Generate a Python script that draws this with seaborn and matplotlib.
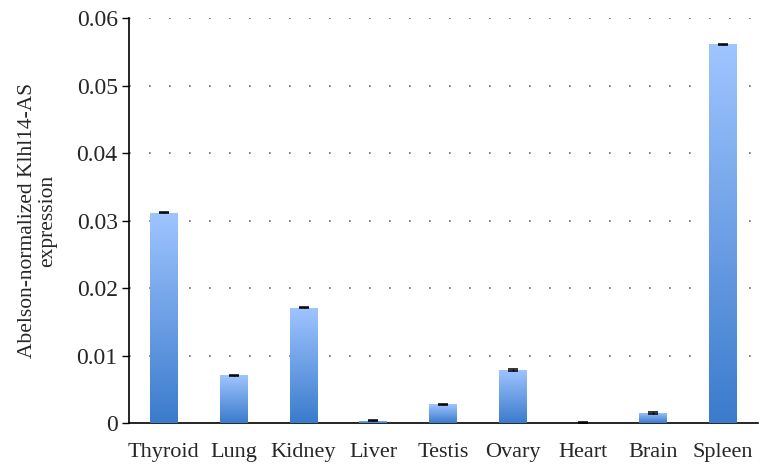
import numpy as np
import matplotlib
matplotlib.use("Agg")
import matplotlib.pyplot as plt
import seaborn as sns
from matplotlib.colors import LinearSegmentedColormap

tissues = ["Thyroid", "Lung", "Kidney", "Liver", "Testis", "Ovary", "Heart", "Brain", "Spleen"]
expression = [0.0312, 0.0071, 0.0171, 0.0004, 0.0028, 0.0079, 0.0001, 0.0015, 0.0561]
errors = [0.0001, 0.0001, 0.0001, 0.0001, 0.0001, 0.0001, 0.0001, 0.0001, 0.0001]

sns.set_style("white")
plt.rcParams["font.family"] = ["Liberation Serif", "DejaVu Serif"]

fig = plt.figure(figsize=(7.67, 4.75), dpi=100)
ax = fig.add_axes([0.168, 0.109, 0.820, 0.853])

sns.barplot(x=tissues, y=expression, color="#6fa0e6", width=0.4, ax=ax, zorder=2)
ax.errorbar(np.arange(len(tissues)), expression, yerr=errors, fmt="none",
            ecolor="black", elinewidth=1, capsize=3.5, capthick=1.1, zorder=4)

# vertical gradient inside each bar
cmap = LinearSegmentedColormap.from_list("bar", ["#3b7bcc", "#9fc5ff"])
grad = np.linspace(0, 1, 256).reshape(-1, 1)
for p in ax.patches:
    x0, y0 = p.get_x(), p.get_y()
    w, h = p.get_width(), p.get_height()
    if h <= 0:
        continue
    im = ax.imshow(grad, cmap=cmap, aspect="auto", origin="lower",
                   extent=[x0, x0 + w, y0, y0 + h], zorder=3)
    im.set_clip_path(p)

ax.set_xlim(-0.5, len(tissues) - 0.5)
ax.set_ylim(0, 0.06)
ax.set_yticks(np.arange(0, 0.061, 0.01))
ax.set_yticklabels(["0", "0.01", "0.02", "0.03", "0.04", "0.05", "0.06"])

for yv in np.arange(0.01, 0.061, 0.01):
    ax.axhline(yv, color="#666666", linestyle=(0, (1, 11)), linewidth=1.2, zorder=1)

ax.set_xticks(np.arange(len(tissues)))
ax.set_xticklabels(tissues)
ax.set_xticks(np.arange(-0.5, len(tissues)), minor=True)
ax.tick_params(axis="x", which="major", length=0, labelsize=16, pad=14)
ax.tick_params(axis="x", which="minor", length=6, width=1, direction="out", color="black")
ax.tick_params(axis="y", length=5, width=1, direction="out", color="black", labelsize=17, left=True, pad=3)

for s in ["top", "right"]:
    ax.spines[s].set_visible(False)
for s in ["left", "bottom"]:
    ax.spines[s].set_color("black")
    ax.spines[s].set_linewidth(1.2)

ax.set_ylabel("Abelson-normalized Klhl14-AS\nexpression", fontsize=15.5, labelpad=14,
              linespacing=1.05)

fig.savefig("out.png", dpi=100)
